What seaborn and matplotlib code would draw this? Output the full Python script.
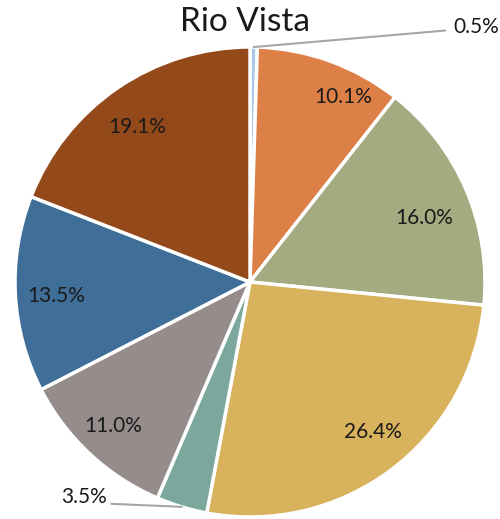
import numpy as np
import matplotlib
matplotlib.use("Agg")
import matplotlib.pyplot as plt
import seaborn as sns

title = "Rio Vista"
values = [0.5, 10.1, 16.0, 26.4, 3.5, 11.0, 13.5, 19.1]
labels = ["0.5%", "10.1%", "16.0%", "26.4%", "3.5%", "11.0%", "13.5%", "19.1%"]
colors = ["#a9c9e6", "#dd8047", "#a5ab81", "#d8b25c", "#7ba79d", "#968c8c", "#3f6f98", "#94491b"]

sns.set_theme(style="white")
plt.rcParams["font.family"] = ["Lato", "DejaVu Sans"]

W, H = 500, 519
fig = plt.figure(figsize=(W / 100, H / 100), dpi=100)
cx, cy, R = 250, 282, 235
ax = fig.add_axes([(cx - R) / W, (H - cy - R) / H, 2 * R / W, 2 * R / H])

wedges, _ = ax.pie(values, colors=colors, startangle=90, counterclock=False, radius=1,
                   wedgeprops=dict(edgecolor="white", linewidth=2.5))
ax.set_xlim(-1, 1)
ax.set_ylim(-1, 1)
ax.set_aspect("equal")
ax.axis("off")

# label placement (layout)
inside_pos = {1: (0.396, 0.787), 2: (0.740, 0.272), 3: (0.523, -0.638),
              5: (-0.583, -0.613), 6: (-0.825, -0.060), 7: (-0.481, 0.660)}
outside = {0: (0.83, 1.07, 0.85, 1.085), 4: (-0.59, -0.944, -0.609, -0.915)}
for i, w in enumerate(wedges):
    mid = np.deg2rad((w.theta1 + w.theta2) / 2)
    if i in inside_pos:
        x, y = inside_pos[i]
        ax.text(x, y, labels[i], ha="center", va="center", fontsize=15, color="#1a1a1a")
    else:
        lx, ly, tx, ty = outside[i]
        ax.plot([np.cos(mid), lx], [np.sin(mid), ly], color="#a6a6a6", lw=1.5, clip_on=False)
        ha = "left" if tx > 0 else "right"
        ax.text(tx + (0.015 if tx > 0 else 0), ty, labels[i], ha=ha, va="center",
                fontsize=15, color="#1a1a1a")

fig.text(245 / W, 1 - 22 / H, title, ha="center", va="center", fontsize=24, color="#1a1a1a")
fig.savefig("out.png", dpi=100, facecolor="white")
